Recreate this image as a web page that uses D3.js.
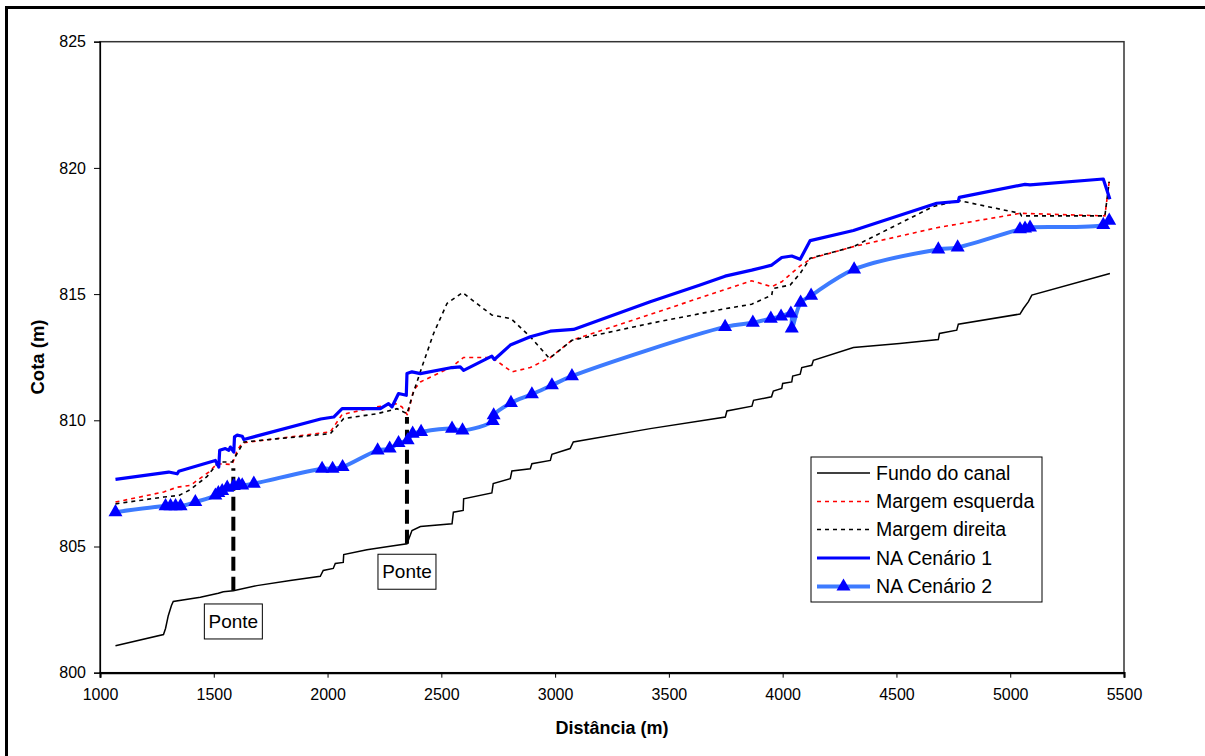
<!DOCTYPE html>
<html>
<head>
<meta charset="utf-8">
<script src="https://cdn.jsdelivr.net/npm/d3@7/dist/d3.min.js"></script>
<style>
    body { margin: 0; background: #fff; }
    svg { display: block; font-family: Arial, "Liberation Sans", sans-serif; }
</style>
</head>
<body>
<div id="chart"></div>
<script>
// Perfil longitudinal
const fundoX = [1068, 1279, 1288, 1300, 1314, 1322, 1441, 1520, 1542, 1586, 1689, 1836, 1968, 1981, 2025, 2034, 2069, 2071,
    2173, 2275, 2349, 2371, 2408, 2547, 2553, 2596, 2598, 2722, 2728, 2803, 2810, 2891, 2898, 2979, 2986, 3066, 3080,
    3418, 3748, 3755, 3865, 3872, 3951, 3959, 3996, 4000, 4040, 4044, 4077, 4084, 4128, 4135, 4311, 4514, 4684, 4689,
    4765, 4772, 5043, 5058, 5080, 5095, 5438];
const fundoY = [801.07, 801.51, 801.75, 802.26, 802.66, 802.82, 802.99, 803.15, 803.21, 803.25, 803.45, 803.65, 803.82, 804.05,
    804.13, 804.33, 804.37, 804.68, 804.87, 805.01, 805.11, 805.63, 805.79, 805.9, 806.36, 806.43, 806.89, 807.12, 807.49,
    807.69, 807.99, 808.08, 808.28, 808.41, 808.65, 808.88, 809.14, 809.67, 810.13, 810.37, 810.56, 810.79, 810.93, 811.16,
    811.26, 811.46, 811.52, 811.75, 811.83, 812.09, 812.18, 812.38, 812.88, 813.04, 813.2, 813.44, 813.57, 813.81, 814.21,
    814.43, 814.7, 814.96, 815.82];

const esquerdaX = [1068, 1280, 1339, 1397, 1478, 1515, 1581, 1603, 1625, 2012, 2064, 2217, 2298, 2327, 2352, 2378, 2408,
    2547, 2598, 2722, 2810, 2891, 2979, 3074, 3864, 3952, 3996, 4077, 4128, 4311, 4677, 5043, 5416, 5435];
const esquerdaY = [806.76, 807.16, 807.35, 807.42, 807.95, 808.28, 808.25, 808.81, 809.1, 809.54, 810.23, 810.53, 810.66,
    810.53, 810.2, 811.19, 811.52, 812.12, 812.49, 812.49, 811.92, 812.09, 812.49, 813.17, 815.53, 815.29, 815.49, 816.12,
    816.42, 816.88, 817.63, 818.2, 818.1, 819.46];

const direitaX = [1068, 1280, 1346, 1397, 1471, 1515, 1537, 1581, 1632, 2012, 2071, 2217, 2305, 2349, 2371, 2415, 2466,
    2525, 2593, 2722, 2806, 2891, 2975, 3074, 3418, 3747, 3864, 3952, 3957, 4033, 4077, 4121, 4311, 4662, 4772, 5043,
    5050, 5416, 5435];
const direitaY = [806.69, 806.96, 807.02, 807.25, 807.78, 808.28, 808.35, 808.35, 809.14, 809.47, 810.07, 810.26, 810.46,
    810.26, 810.93, 812.12, 813.44, 814.63, 815.06, 814.17, 814.03, 813.31, 812.45, 813.17, 813.84, 814.42, 814.6, 814.96,
    815.22, 815.36, 815.82, 816.42, 816.88, 818.47, 818.71, 818.2, 818.1, 818.1, 819.46];

const cenario1X = [1068, 1302, 1339, 1346, 1507, 1522, 1526, 1551, 1566, 1573, 1588, 1591, 1603, 1625, 1632, 1970, 2027,
    2064, 2232, 2268, 2283, 2312, 2346, 2349, 2371, 2408, 2547, 2583, 2598, 2722, 2733, 2803, 2891, 2979, 3081, 3418,
    3637, 3747, 3864, 3952, 3996, 4040, 4077, 4121, 4311, 4677, 4772, 4776, 5065, 5087, 5409, 5438];
const cenario1Y = [807.66, 807.95, 807.88, 807.98, 808.41, 808.15, 808.81, 808.88, 808.81, 808.94, 808.74, 809.34, 809.41,
    809.37, 809.24, 810.05, 810.13, 810.46, 810.46, 810.66, 810.53, 811.06, 810.99, 811.85, 811.92, 811.85, 812.09, 812.12,
    811.98, 812.54, 812.41, 812.98, 813.31, 813.53, 813.6, 814.7, 815.36, 815.71, 815.95, 816.15, 816.45, 816.51, 816.38,
    817.12, 817.52, 818.6, 818.67, 818.83, 819.35, 819.33, 819.56, 818.76];

const cenario2X = [1068, 1288, 1310, 1332, 1354, 1419, 1507, 1520, 1537, 1559, 1588, 1610, 1625, 1676, 1976, 2022, 2066,
    2220, 2273, 2312, 2352, 2374, 2411, 2547, 2593, 2726, 2730, 2806, 2898, 2986, 3074, 3747, 3869, 3948, 3993, 4036,
    4040, 4079, 4125, 4314, 4684, 4769, 5043, 5065, 5087, 5409, 5435];
const cenario2Y = [806.36, 806.6, 806.6, 806.6, 806.6, 806.76, 807.02, 807.12, 807.2, 807.33, 807.4, 807.45, 807.42, 807.49,
    808.08, 808.08, 808.15, 808.81, 808.88, 809.1, 809.21, 809.47, 809.54, 809.67, 809.6, 809.97, 810.2, 810.69, 811.03,
    811.39, 811.75, 813.7, 813.87, 814.03, 814.11, 814.23, 813.64, 814.66, 814.94, 815.98, 816.77, 816.85, 817.57, 817.6,
    817.64, 817.74, 817.91];

// Pontes (bridges): position, bottom / top of the dashed line, label height
const ponteX = [1586, 2349];
const ponteBase = [803.25, 805.11];
const ponteTopo = [808.1, 810.13];
const ponteLabelY = [802.03, 804.0];

const xTicks = [1000, 1500, 2000, 2500, 3000, 3500, 4000, 4500, 5000, 5500];
const yTicks = [800, 805, 810, 815, 820, 825];

const seriesNames = ['Fundo do canal', 'Margem esquerda', 'Margem direita', 'NA Cenário 1', 'NA Cenário 2'];

class ProfileChart {
    constructor(containerId) {
        this.container = d3.select(`#${containerId}`);
        this.config = {
            width: 1205,
            height: 756,
            plot: { left: 100, right: 1124, top: 41.7, bottom: 672.7 },
            lightBlue: '#3d7bff',
            darkBlue: '#0000ff'
        };
    }

    render() {
        const c = this.config;
        this.container.selectAll('*').remove();

        const svg = this.container.append('svg')
            .attr('width', c.width)
            .attr('height', c.height);

        // Outer frame (only top and left edges are visible)
        svg.append('path')
            .attr('d', `M6.5,${c.height + 5} L6.5,7.5 L${c.width + 5},7.5`)
            .attr('fill', 'none')
            .attr('stroke', '#000')
            .attr('stroke-width', 3);

        const x = d3.scaleLinear().domain([1000, 5500]).range([c.plot.left, c.plot.right]);
        const y = d3.scaleLinear().domain([800, 825]).range([c.plot.bottom, c.plot.top]);

        // Plot area border
        svg.append('rect')
            .attr('x', c.plot.left)
            .attr('y', c.plot.top)
            .attr('width', c.plot.right - c.plot.left)
            .attr('height', c.plot.bottom - c.plot.top)
            .attr('fill', 'none')
            .attr('stroke', '#333')
            .attr('stroke-width', 1.5);

        // Axes
        const xAxis = svg.append('g')
            .attr('transform', `translate(0,${c.plot.bottom})`)
            .call(d3.axisBottom(x).tickValues(xTicks).tickSize(5).tickPadding(11).tickFormat(d3.format('d')));
        const yAxis = svg.append('g')
            .attr('transform', `translate(${c.plot.left},0)`)
            .call(d3.axisLeft(y).tickValues(yTicks).tickSize(6).tickPadding(8).tickFormat(d3.format('d')));

        [xAxis, yAxis].forEach(ax => {
            ax.selectAll('text').style('font-size', '16px').attr('fill', '#000');
            ax.selectAll('line').attr('stroke', '#000');
        });
        xAxis.select('.domain').attr('stroke', '#000').attr('stroke-width', 2.2);
        yAxis.select('.domain').attr('stroke', '#000').attr('stroke-width', 1.2);

        // Axis titles
        svg.append('text')
            .attr('x', (c.plot.left + c.plot.right) / 2)
            .attr('y', 734)
            .attr('text-anchor', 'middle')
            .style('font-size', '18px')
            .style('font-weight', 'bold')
            .text('Distância (m)');

        svg.append('text')
            .attr('transform', 'translate(44,357) rotate(-90)')
            .attr('text-anchor', 'middle')
            .style('font-size', '18.5px')
            .style('font-weight', 'bold')
            .text('Cota (m)');

        const toPoints = (xs, ys) => xs.map((d, i) => [d, ys[i]]);
        const line = d3.line().x(d => x(d[0])).y(d => y(d[1]));
        const smooth = d3.line().x(d => x(d[0])).y(d => y(d[1])).curve(d3.curveCatmullRom.alpha(0.5));

        const plot = svg.append('g');

        // Bridges (thick dashed verticals)
        ponteX.forEach((px, i) => {
            plot.append('line')
                .attr('x1', x(px)).attr('x2', x(px))
                .attr('y1', y(ponteBase[i])).attr('y2', y(ponteTopo[i]))
                .attr('stroke', '#000')
                .attr('stroke-width', 4)
                .attr('stroke-dasharray', '14,6');
        });

        plot.append('path')
            .datum(toPoints(fundoX, fundoY))
            .attr('d', line)
            .attr('fill', 'none')
            .attr('stroke', '#000')
            .attr('stroke-width', 1.5);

        plot.append('path')
            .datum(toPoints(esquerdaX, esquerdaY))
            .attr('d', line)
            .attr('fill', 'none')
            .attr('stroke', '#ff0000')
            .attr('stroke-width', 1.6)
            .attr('stroke-dasharray', '4,4');

        plot.append('path')
            .datum(toPoints(direitaX, direitaY))
            .attr('d', line)
            .attr('fill', 'none')
            .attr('stroke', '#000')
            .attr('stroke-width', 1.6)
            .attr('stroke-dasharray', '4,4');

        plot.append('path')
            .datum(toPoints(cenario1X, cenario1Y))
            .attr('d', line)
            .attr('fill', 'none')
            .attr('stroke', c.darkBlue)
            .attr('stroke-width', 3.2)
            .attr('stroke-linejoin', 'round');

        const pts2 = toPoints(cenario2X, cenario2Y);
        plot.append('path')
            .datum(pts2)
            .attr('d', smooth)
            .attr('fill', 'none')
            .attr('stroke', c.lightBlue)
            .attr('stroke-width', 4)
            .attr('stroke-linejoin', 'round');

        const tri = d3.symbol().type(d3.symbolTriangle).size(85);
        plot.selectAll('.marker')
            .data(pts2)
            .enter()
            .append('path')
            .attr('class', 'marker')
            .attr('d', tri)
            .attr('transform', d => `translate(${x(d[0])},${y(d[1])})`)
            .attr('fill', c.darkBlue);

        // Bridge labels
        ponteX.forEach((px, i) => {
            const cx = x(px), cy = y(ponteLabelY[i]);
            svg.append('rect')
                .attr('x', cx - 29).attr('y', cy - 17.5)
                .attr('width', 58).attr('height', 35)
                .attr('fill', '#fff')
                .attr('stroke', '#000')
                .attr('stroke-width', 1);
            svg.append('text')
                .attr('x', cx).attr('y', cy)
                .attr('dy', '0.35em')
                .attr('text-anchor', 'middle')
                .style('font-size', '19px')
                .text('Ponte');
        });

        // Legend
        const legend = svg.append('g').attr('transform', 'translate(811,457)');
        legend.append('rect')
            .attr('width', 231).attr('height', 145)
            .attr('fill', '#fff')
            .attr('stroke', '#000')
            .attr('stroke-width', 1);

        const styles = [
            { stroke: '#000', width: 1.5, dash: null },
            { stroke: '#ff0000', width: 1.6, dash: '4,4' },
            { stroke: '#000', width: 1.6, dash: '4,4' },
            { stroke: c.darkBlue, width: 3.2, dash: null },
            { stroke: c.lightBlue, width: 4, dash: null, marker: true }
        ];
        const rowY = [16, 44.5, 72.5, 101, 129.5];

        seriesNames.forEach((name, i) => {
            const row = legend.append('g').attr('transform', `translate(0,${rowY[i]})`);
            row.append('line')
                .attr('x1', 6).attr('x2', 59)
                .attr('stroke', styles[i].stroke)
                .attr('stroke-width', styles[i].width)
                .attr('stroke-dasharray', styles[i].dash);
            if (styles[i].marker) {
                row.append('path')
                    .attr('d', tri)
                    .attr('transform', 'translate(32.5,0)')
                    .attr('fill', c.darkBlue);
            }
            row.append('text')
                .attr('x', 65)
                .attr('dy', '0.35em')
                .style('font-size', '19.5px')
                .text(name);
        });

        return this;
    }
}

new ProfileChart('chart').render();
</script>
</body>
</html>
